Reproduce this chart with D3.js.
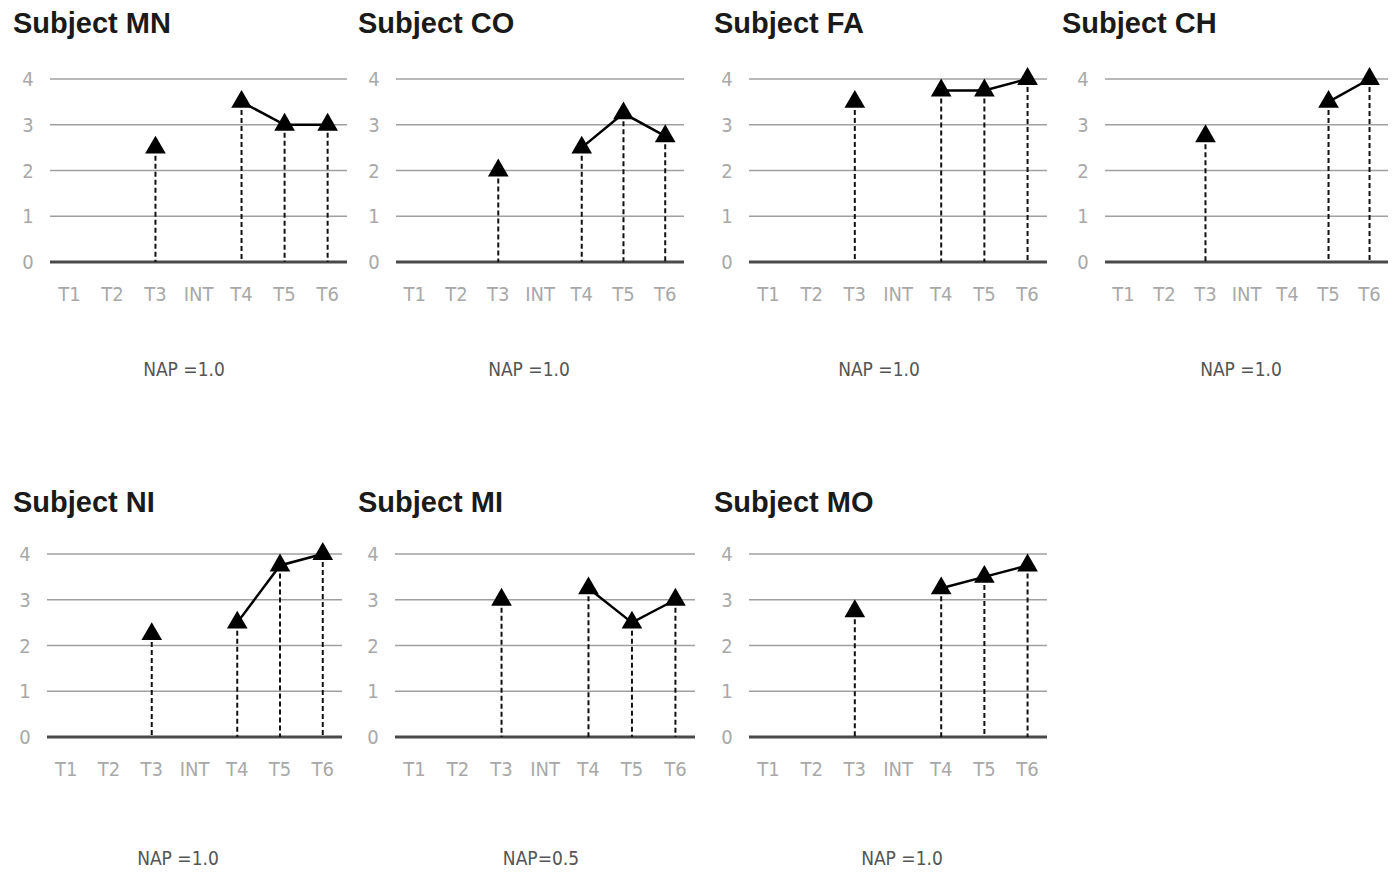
<!DOCTYPE html>
<html><head><meta charset="utf-8">
<script src="https://cdn.jsdelivr.net/npm/d3@7"></script>
<style>body{margin:0;background:#fff}svg{display:block}</style>
</head><body>
<svg id="c" width="1395" height="882"></svg>
<script>
const categories = ["T1","T2","T3","INT","T4","T5","T6"];
const yTicks = [0,1,2,3,4];
const subjects = ["Subject MN","Subject CO","Subject FA","Subject CH","Subject NI","Subject MI","Subject MO"];
const napLabels = ["NAP =1.0","NAP =1.0","NAP =1.0","NAP =1.0","NAP =1.0","NAP=0.5","NAP =1.0"];
// values per category (null = no measurement)
const valuesMN = [null,null,2.5,null,3.5,3.0,3.0];
const valuesCO = [null,null,2.0,null,2.5,3.25,2.75];
const valuesFA = [null,null,3.5,null,3.75,3.75,4.0];
const valuesCH = [null,null,2.75,null,null,3.5,4.0];
const valuesNI = [null,null,2.25,null,2.5,3.75,4.0];
const valuesMI = [null,null,3.0,null,3.25,2.5,3.0];
const valuesMO = [null,null,2.75,null,3.25,3.5,3.75];
const allValues = [valuesMN,valuesCO,valuesFA,valuesCH,valuesNI,valuesMI,valuesMO];

// layout (pixels)
const panelLeft  = [50, 396, 749, 1105, 47, 395, 749];
const panelRight = [347, 684, 1047, 1388, 342, 695, 1047];
const panelTop   = [79, 79, 79, 79, 554, 554, 554];
const panelBot   = [262, 262, 262, 262, 737, 737, 737];
const titleX     = [13, 358, 714, 1062, 13, 358, 714];
const napX       = [184, 529, 879, 1241, 178, 541, 902];
const napY       = [376, 376, 376, 376, 865, 865, 865];
const titleY     = [33, 33, 33, 33, 512, 512, 512];

const svg = d3.select("#c");
const tri = d3.symbol().type(d3.symbolTriangle).size(185);
const labFont = "DejaVu Sans Condensed, sans-serif";

subjects.forEach((name, i) => {
  const g = svg.append("g");
  const x = d3.scalePoint().domain(categories).range([panelLeft[i], panelRight[i]]).padding(0.45);
  const y = d3.scaleLinear().domain([0,4]).range([panelBot[i], panelTop[i]]);
  const vals = allValues[i];
  const pts = categories.map((c, k) => ({c, v: vals[k]}));

  g.append("text").attr("x", titleX[i]).attr("y", titleY[i])
    .attr("font-family", "Liberation Sans, Arial, sans-serif").attr("font-weight", "bold")
    .attr("font-size", 29).attr("fill", "#1a1a1a").text(name);

  // gridlines
  g.selectAll("line.grid").data(yTicks.filter(t => t > 0)).enter().append("line")
    .attr("x1", panelLeft[i]).attr("x2", panelRight[i])
    .attr("y1", d => y(d)).attr("y2", d => y(d))
    .attr("stroke", "#a0a0a0").attr("stroke-width", 1.5);
  g.append("line").attr("x1", panelLeft[i]).attr("x2", panelRight[i])
    .attr("y1", y(0)).attr("y2", y(0)).attr("stroke", "#4a4a4a").attr("stroke-width", 3);

  // y labels
  g.selectAll("text.yl").data(yTicks).enter().append("text")
    .attr("x", panelLeft[i] - 22).attr("y", d => y(d)).attr("dy", "0.36em")
    .attr("text-anchor", "middle").attr("font-family", labFont)
    .attr("font-size", 20).attr("fill", "#a8a8a8").text(d => d);

  // x labels
  g.selectAll("text.xl").data(categories).enter().append("text")
    .attr("x", d => x(d)).attr("y", panelBot[i] + 39)
    .attr("text-anchor", "middle").attr("font-family", labFont)
    .attr("font-size", 20).attr("fill", "#a8a8a8").text(d => d);

  const present = pts.filter(p => p.v != null);
  // dashed drop lines
  g.selectAll("line.drop").data(present).enter().append("line")
    .attr("x1", d => x(d.c)).attr("x2", d => x(d.c))
    .attr("y1", d => y(d.v)).attr("y2", y(0))
    .attr("stroke", "#111").attr("stroke-width", 2).attr("stroke-dasharray", "5,3");

  // connecting line for post-intervention phase
  const postIdx = categories.indexOf("INT");
  const post = pts.filter((p, k) => k > postIdx && p.v != null);
  g.append("path").datum(post)
    .attr("d", d3.line().x(d => x(d.c)).y(d => y(d.v)))
    .attr("fill", "none").attr("stroke", "#000").attr("stroke-width", 2.5);

  // triangle markers
  g.selectAll("path.m").data(present).enter().append("path")
    .attr("d", tri).attr("transform", d => `translate(${x(d.c)},${y(d.v)})`)
    .attr("fill", "#000");

  g.append("text").attr("x", napX[i]).attr("y", napY[i])
    .attr("text-anchor", "middle").attr("font-family", labFont)
    .attr("font-size", 19).attr("fill", "#555").text(napLabels[i]);
});
</script>
</body></html>
